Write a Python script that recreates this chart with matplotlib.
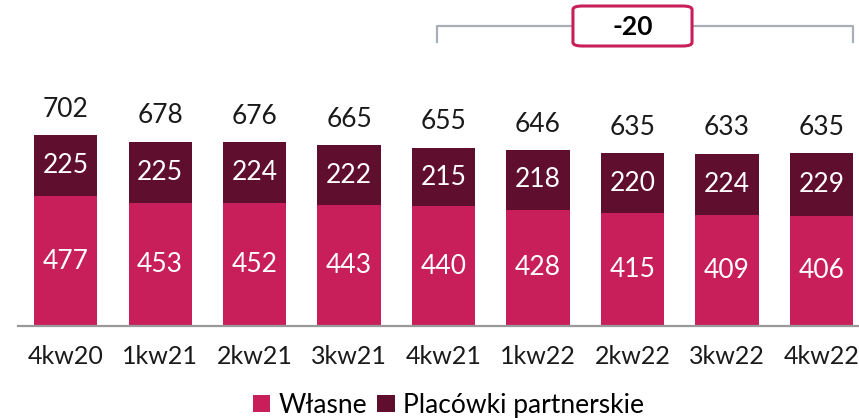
import numpy as np
import matplotlib.pyplot as plt
from matplotlib.patches import FancyBboxPatch

plt.rcParams['font.family'] = ['Lato', 'DejaVu Sans']

quarters = ["4kw20", "1kw21", "2kw21", "3kw21", "4kw21", "1kw22", "2kw22", "3kw22", "4kw22"]
wlasne = [477, 453, 452, 443, 440, 428, 415, 409, 406]
partner = [225, 225, 224, 222, 215, 218, 220, 224, 229]
totals = [702, 678, 676, 665, 655, 646, 635, 633, 635]
change_label = "-20"

pink = "#C81F5A"
maroon = "#600E2E"
gray = "#A9AFB7"

fig = plt.figure(figsize=(8.59, 4.18), dpi=100)
ax = fig.add_axes([18 / 859, 92 / 418, 841 / 859, 326 / 418])

x = np.arange(len(quarters))
w = 0.667
ax.bar(x, wlasne, w, color=pink, label="Własne")
ax.bar(x, partner, w, bottom=wlasne, color=maroon, label="Placówki partnerskie")

fs = 19
for i in range(len(quarters)):
    ax.text(x[i], wlasne[i] / 2, str(wlasne[i]), ha="center", va="center",
            color="white", fontsize=fs)
    ax.text(x[i], wlasne[i] + partner[i] / 2, str(partner[i]), ha="center", va="center",
            color="white", fontsize=fs)
    ax.text(x[i], totals[i] + 95, str(totals[i]), ha="center", va="center",
            color="#1a1a1a", fontsize=fs)

ax.set_xlim(-0.503, 8.397)
ax.set_ylim(0, 326 / 0.2721)
for s in ["top", "left", "right"]:
    ax.spines[s].set_visible(False)
ax.spines["bottom"].set_color("#999999")
ax.spines["bottom"].set_linewidth(1.6)
ax.set_yticks([])
ax.set_xticks(x)
ax.set_xticklabels(quarters, fontsize=18, color="#1a1a1a")
ax.tick_params(axis="x", length=0, pad=14)

# bracket with change box
y_br = 1102
x0, x1 = 3.93, 8.33
ax.plot([x0, x0, x1, x1], [1043, y_br, y_br, 1043], color=gray, lw=1.6,
        clip_on=False, zorder=1)
box = FancyBboxPatch((5.37, 1029), 6.63 - 5.37, 1176 - 1029,
                     boxstyle="round,pad=0,rounding_size=0.1", mutation_aspect=130,
                     fc="white", ec=pink, lw=2.2, clip_on=False, zorder=3)
ax.add_patch(box)
ax.text(6.0, 1100, change_label, ha="center", va="center",
        fontsize=19, fontweight="bold", color="black", zorder=4)

fig.legend(loc="center", bbox_to_anchor=(0.522, 0.03), ncol=2, frameon=False,
           fontsize=fs, handlelength=0.65, handleheight=0.65, handletextpad=0.3,
           columnspacing=0.4, borderaxespad=0)

fig.savefig("out.png", dpi=100)
